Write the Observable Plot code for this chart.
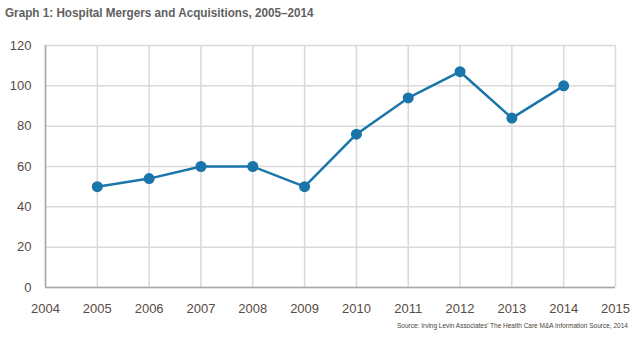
<!DOCTYPE html>
<html>
<head>
<meta charset="utf-8">
<script src="https://cdn.jsdelivr.net/npm/d3@7"></script>
<script src="https://cdn.jsdelivr.net/npm/@observablehq/plot@0.6"></script>
<style>
  html, body { margin: 0; padding: 0; background: #fff; }
  #wrap { position: relative; width: 636px; height: 339px; overflow: hidden; }
  #title { position: absolute; left: 5px; top: 5px; font-family: "Liberation Sans Narrow", "Arial Narrow", "Liberation Sans", sans-serif; font-weight: bold; font-size: 13.5px; color: #5f5f5f; white-space: nowrap; transform: scaleX(0.867); transform-origin: left top; }
  #chart { position: absolute; left: 0; top: 30px; }
  #source { position: absolute; right: 8px; top: 321px; font-family: "Liberation Sans Narrow", "Arial Narrow", "Liberation Sans", sans-serif; font-size: 7.5px; color: #4a3f3a; white-space: nowrap; transform: scaleX(0.865); transform-origin: right top; }
</style>
</head>
<body>
<div id="wrap">
  <div id="title">Graph 1: Hospital Mergers and Acquisitions, 2005–2014</div>
  <div id="chart"></div>
  <div id="source">Source: Irving Levin Associates' The Health Care M&amp;A Information Source, 2014</div>
</div>
<script>
const years = [2005, 2006, 2007, 2008, 2009, 2010, 2011, 2012, 2013, 2014];
const deals = [50, 54, 60, 60, 50, 76, 94, 107, 84, 100];
const xTicks = [2004, 2005, 2006, 2007, 2008, 2009, 2010, 2011, 2012, 2013, 2014, 2015];
const yTicks = [0, 20, 40, 60, 80, 100, 120];

const data = years.map((y, i) => ({year: y, value: deals[i]}));
const lineColor = "#1a75aa";
const textColor = "#5a4a44";

const chart = Plot.plot({
  width: 636,
  height: 295,
  marginLeft: 45,
  marginRight: 21,
  marginTop: 15,
  marginBottom: 38,
  style: {fontFamily: "Liberation Sans, Arial, sans-serif", fontSize: "13px", color: textColor, background: "transparent"},
  x: {domain: [2004, 2015]},
  y: {domain: [0, 120]},
  marks: [
    Plot.ruleX(xTicks, {stroke: "#d9d9d9", strokeWidth: 1.5}),
    Plot.ruleY(yTicks, {stroke: "#d9d9d9", strokeWidth: 1.5}),
    Plot.ruleX([2004], {stroke: "#a8a8a8", strokeWidth: 1.5}),
    Plot.ruleY([0], {stroke: "#a8a8a8", strokeWidth: 1.5}),
    Plot.axisX({ticks: xTicks, tickFormat: d => String(d), tickSize: 0, tickPadding: 16, label: null, fill: textColor}),
    Plot.axisY({ticks: yTicks, tickSize: 0, tickPadding: 14, label: null, fill: textColor}),
    Plot.line(data, {x: "year", y: "value", stroke: lineColor, strokeWidth: 2.5}),
    Plot.dot(data, {x: "year", y: "value", fill: lineColor, r: 5.5})
  ]
});
document.getElementById("chart").appendChild(chart);
</script>
</body>
</html>
